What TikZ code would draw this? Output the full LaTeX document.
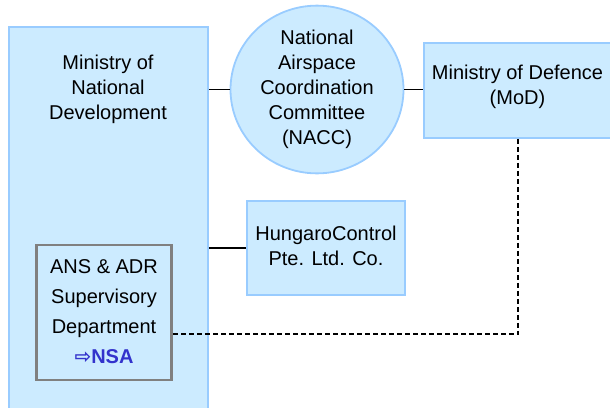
\documentclass[tikz,border=0pt]{standalone}
\usepackage{fontspec}
\setmainfont{Liberation Sans}
\newfontfamily\symfont{DejaVu Sans}
\usetikzlibrary{shapes.geometric}
\definecolor{boxfill}{HTML}{CCEBFF}
\definecolor{boxline}{HTML}{99CCFF}
\definecolor{supline}{HTML}{808080}
\definecolor{nsablue}{HTML}{3333CC}
\tikzset{
  bluebox/.style={draw=boxline, fill=boxfill, line width=1.8pt, rectangle, inner sep=0pt},
  plaintext/.style={align=center, font=\fontsize{20}{25}\selectfont, inner sep=0pt},
  link/.style={line width=1.8pt, black},
  dashlink/.style={line width=2pt, black, dash pattern=on 5pt off 3pt},
}
\begin{document}
\begin{tikzpicture}[x=1pt,y=-1pt]
\useasboundingbox (0,0) rectangle (610,407);
% big ministry box
\node[bluebox, minimum width=199pt, minimum height=400pt, anchor=north west] (mnd) at (8,25.7) {};
\node[plaintext] (mndlabel) at (108,89) {Ministry of\\National\\Development};
% NACC
\node[bluebox, ellipse, minimum width=173pt, minimum height=157pt, plaintext] (nacc) at (317,89.5) {National\\Airspace\\Coordination\\Committee\\(NACC)};
% MoD
\node[bluebox, minimum width=189pt, minimum height=95pt, anchor=north west] (mod) at (423,42) {};
\node[plaintext] (modlabel) at (517.5,87) {Ministry of Defence\\(MoD)};
% HungaroControl
\node[bluebox, minimum width=158pt, minimum height=94pt] (hc) at (326,248) {};
\node[plaintext] (hclabel) at (326,245.5) {HungaroControl\\Pte. Ltd. Co.};
% supervisory
\node[draw=supline, fill=boxfill, line width=2.6pt, minimum width=135pt, minimum height=135pt, inner sep=0pt] (sup) at (104.2,312.5) {};
\node[align=center, font=\fontsize{20}{30}\selectfont, inner sep=0pt] (suplabel) at (104,312) {ANS \& ADR\\Supervisory\\Department\\{\color{nsablue}{\symfont\bfseries ⇨}\textbf{NSA}}};
% connectors
\draw[link] (mnd.east |- nacc.west) -- (nacc.west);
\draw[link] (nacc.east) -- (mod.west |- nacc.east);
\draw[link] (mnd.east |- hc.west) -- (hc.west);
\coordinate (corner) at (518,334.3);
\draw[dashlink] (mod.south -| corner) -- (corner) -- (sup.east |- corner);
\end{tikzpicture}
\end{document}
